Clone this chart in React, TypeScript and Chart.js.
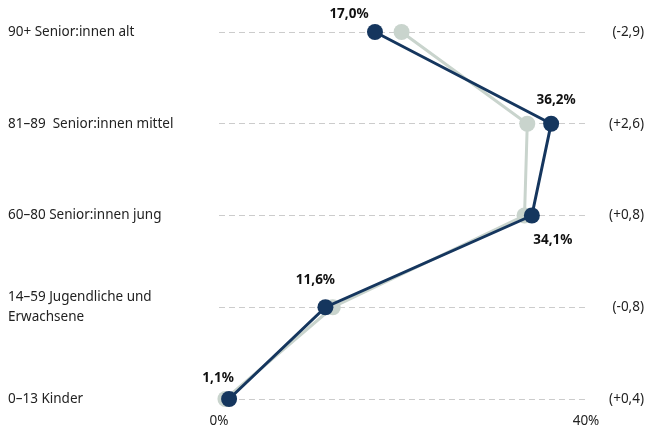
import React, { useEffect, useRef } from "react";
import { Chart, registerables } from "chart.js";

Chart.register(...registerables);

const categories: (string | string[])[] = [
  "90+ Senior:innen alt",
  "81–89  Senior:innen mittel",
  "60–80 Senior:innen jung",
  ["14–59 Jugendliche und", "Erwachsene"],
  "0–13 Kinder",
];
const currentValues = [17.0, 36.2, 34.1, 11.6, 1.1];
const previousValues = [19.9, 33.6, 33.3, 12.4, 0.7];
const changeLabels = ["(-2,9)", "(+2,6)", "(+0,8)", "(-0,8)", "(+0,4)"];
const xTicks = [0, 40];

const NAVY = "#15365e";
const GREY = "#c9d4cd";
const TEXT = "#222222";
const FONT = "'Noto Sans', 'Open Sans', sans-serif";

// label offsets relative to point (style only)
const LABEL_OFFSETS: [number, number][] = [
  [-26, -18],
  [5, -24],
  [21, 25],
  [-10, -27],
  [-11, -21],
];

const fmt = (v: number) => v.toFixed(1).replace(".", ",") + "%";

const labelPlugin = {
  id: "valueLabels",
  afterDatasetsDraw(chart: any) {
    const meta = chart.getDatasetMeta(0);
    const ctx = chart.ctx;
    ctx.save();
    ctx.font = `bold 13.5px ${FONT}`;
    ctx.fillStyle = "#111111";
    ctx.textAlign = "center";
    ctx.textBaseline = "middle";
    meta.data.forEach((pt: any, i: number) => {
      const [dx, dy] = LABEL_OFFSETS[i];
      ctx.fillText(fmt(currentValues[i]), pt.x + dx, pt.y + dy);
    });
    ctx.restore();
  },
};

export default function App() {
  const ref = useRef<HTMLCanvasElement>(null);
  useEffect(() => {
    if (!ref.current) return;
    const chart = new Chart(ref.current, {
      type: "line",
      data: {
        labels: categories as any,
        datasets: [
          {
            label: "aktuell",
            data: currentValues,
            borderColor: NAVY,
            backgroundColor: NAVY,
            borderWidth: 3,
            pointRadius: 8,
            pointBackgroundColor: NAVY,
            pointBorderWidth: 0,
            tension: 0,
            clip: false as any,
          },
          {
            label: "vorher",
            data: previousValues,
            borderColor: GREY,
            backgroundColor: GREY,
            borderWidth: 3,
            pointRadius: 8,
            pointBackgroundColor: GREY,
            pointBorderWidth: 0,
            tension: 0,
            clip: false as any,
          },
        ],
      },
      options: {
        indexAxis: "y",
        animation: false,
        responsive: true,
        maintainAspectRatio: false,
        layout: { padding: { top: 32, left: 8, right: 4, bottom: 0 } },
        plugins: {
          legend: { display: false },
          tooltip: { enabled: false },
        },
        scales: {
          x: {
            type: "linear",
            min: xTicks[0],
            max: xTicks[xTicks.length - 1],
            afterBuildTicks: (s: any) => {
              s.ticks = xTicks.map((v) => ({ value: v }));
            },
            grid: { display: false },
            border: { display: false },
            ticks: {
              padding: 6,
              color: TEXT,
              font: { family: FONT, size: 13.5 },
              callback: (v: any) => v + "%",
            },
            afterFit: (s: any) => {
              s.height = 29;
            },
          },
          y: {
            type: "category",
            position: "left",
            offset: false,
            grid: {
              color: "#cccccc",
              lineWidth: 1,
              drawTicks: false,
            },
            border: { display: false, dash: [6, 4] },
            ticks: {
              crossAlign: "far",
              padding: 0,
              color: TEXT,
              font: { family: FONT, size: 13.5, lineHeight: 1.5 },
            },
            afterFit: (s: any) => {
              s.width = 211;
            },
          },
          y2: {
            type: "category",
            position: "right",
            labels: changeLabels,
            offset: false,
            grid: { display: false },
            border: { display: false },
            ticks: {
              crossAlign: "far",
              padding: 0,
              color: TEXT,
              font: { family: FONT, size: 13.5 },
            },
            afterFit: (s: any) => {
              s.width = 58;
            },
          },
        },
      } as any,
      plugins: [labelPlugin],
    });
    return () => chart.destroy();
  }, []);
  return (
    <div style={{ position: "absolute", left: 0, top: 0, width: 648, height: 428 }}>
      <canvas ref={ref} />
    </div>
  );
}
